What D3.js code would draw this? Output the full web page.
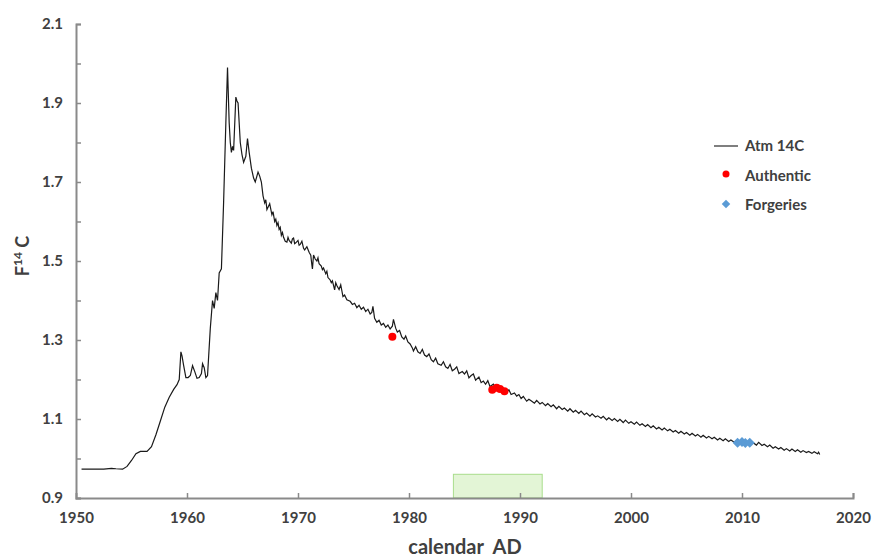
<!DOCTYPE html>
<html>
<head>
<meta charset="utf-8">
<script src="https://cdn.jsdelivr.net/npm/d3@7"></script>
<style>
  body { margin: 0; background: #fff; }
  text { font-family: Lato, "Open Sans", sans-serif; }
</style>
</head>
<body>
<div id="chart"></div>
<script>
// atmospheric F14C record (year, F14C)
var atm14C = [
  [1950.5,0.973],[1951.5,0.973],[1952.5,0.973],[1953.2,0.975],[1953.6,0.974],[1954.2,0.973],
  [1954.6,0.98],[1955.0,0.995],[1955.4,1.012],[1955.8,1.018],[1956.4,1.018],[1956.8,1.03],
  [1957.2,1.06],[1957.6,1.095],[1958.0,1.13],[1958.4,1.155],[1958.8,1.175],[1959.1,1.187],
  [1959.3,1.20],[1959.45,1.27],[1959.55,1.26],[1959.7,1.235],[1959.9,1.205],[1960.1,1.205],
  [1960.3,1.21],[1960.5,1.235],[1960.7,1.22],[1960.9,1.203],[1961.1,1.205],[1961.3,1.215],
  [1961.4,1.24],[1961.55,1.23],[1961.7,1.205],[1961.85,1.21],[1962.1,1.33],[1962.3,1.40],
  [1962.45,1.38],[1962.6,1.42],[1962.75,1.40],[1962.9,1.47],[1963.1,1.48],[1963.3,1.65],
  [1963.5,1.85],[1963.65,1.99],[1963.8,1.85],[1963.9,1.80],[1964.0,1.775],[1964.1,1.79],
  [1964.2,1.78],[1964.4,1.915],[1964.5,1.905],[1964.6,1.90],[1964.8,1.80],[1964.95,1.77],
  [1965.1,1.75],[1965.3,1.765],[1965.45,1.81],[1965.6,1.775],[1965.8,1.735],[1966.0,1.71],
  [1966.15,1.70],[1966.4,1.725],[1966.55,1.715],[1966.7,1.70],[1966.85,1.665],[1967.0,1.647],
  [1967.1,1.655],[1967.2,1.63],[1967.45,1.645],[1967.65,1.617],[1967.75,1.625],[1967.9,1.60],
  [1968.0,1.606],[1968.1,1.59],[1968.2,1.597],[1968.3,1.58],[1968.4,1.585],[1968.5,1.565],
  [1968.6,1.572],[1968.7,1.56],[1968.85,1.55],[1969.0,1.548],[1969.1,1.56],[1969.2,1.552],
  [1969.4,1.545],[1969.5,1.556],[1969.6,1.558],[1969.7,1.544],[1969.8,1.546],[1970.0,1.552],
  [1970.1,1.54],[1970.2,1.542],[1970.35,1.55],[1970.5,1.532],[1970.6,1.528],[1970.8,1.536],
  [1971.0,1.522],[1971.15,1.515],[1971.25,1.49],[1971.3,1.48],[1971.4,1.515],[1971.55,1.505],
  [1971.7,1.50],[1971.8,1.508],[1971.9,1.493],[1972.1,1.487],[1972.2,1.478],[1972.3,1.482],
  [1972.5,1.468],[1972.6,1.474],[1972.7,1.458],[1972.9,1.452],[1973.0,1.445],[1973.1,1.45],
  [1973.3,1.427],[1973.4,1.445],[1973.5,1.438],[1973.7,1.428],[1973.85,1.44],[1974.05,1.41],
  [1974.2,1.414],[1974.4,1.402],[1974.7,1.398],[1974.9,1.39],[1975.1,1.393],[1975.3,1.382],
  [1975.5,1.388],[1975.7,1.378],[1975.9,1.383],[1976.1,1.372],[1976.3,1.378],[1976.5,1.366],
  [1976.65,1.37],[1976.75,1.385],[1976.9,1.355],[1977.1,1.345],[1977.3,1.35],[1977.5,1.338],
  [1977.7,1.342],[1977.9,1.332],[1978.1,1.338],[1978.3,1.328],[1978.5,1.335],[1978.6,1.352],
  [1978.8,1.33],[1978.95,1.32],[1979.15,1.324],[1979.35,1.308],[1979.55,1.302],[1979.7,1.31],
  [1979.9,1.295],[1980.1,1.29],[1980.3,1.28],[1980.4,1.272],[1980.6,1.283],[1980.8,1.27],
  [1981.0,1.266],[1981.2,1.276],[1981.4,1.262],[1981.6,1.258],[1981.8,1.265],[1982.0,1.25],
  [1982.2,1.245],[1982.4,1.254],[1982.6,1.24],[1982.9,1.236],[1983.1,1.245],[1983.3,1.232],
  [1983.5,1.228],[1983.7,1.238],[1983.9,1.222],[1984.1,1.226],[1984.3,1.232],[1984.5,1.215],
  [1984.8,1.22],[1985.0,1.214],[1985.2,1.222],[1985.4,1.204],[1985.6,1.21],[1985.8,1.214],
  [1986.0,1.198],[1986.3,1.206],[1986.5,1.192],[1986.7,1.196],[1986.9,1.188],[1987.1,1.197],
  [1987.3,1.182],[1987.6,1.188],[1987.8,1.178],[1988.0,1.182],[1988.3,1.172],[1988.5,1.178],
  [1988.8,1.168],[1989.0,1.174],[1989.2,1.162],[1989.5,1.166],[1989.7,1.158],[1989.9,1.162],
  [1990.1,1.152],[1990.3,1.157],[1990.6,1.145],[1990.8,1.15],[1991.0,1.146],[1991.3,1.14],
  [1991.5,1.147],[1991.8,1.138],[1992.0,1.142],[1992.3,1.134],[1992.5,1.139],[1992.8,1.131],
  [1993.0,1.136],[1993.3,1.126],[1993.5,1.132],[1993.8,1.124],[1994.0,1.128],[1994.3,1.12],
  [1994.5,1.126],[1994.8,1.117],[1995.0,1.122],[1995.3,1.114],[1995.5,1.12],[1995.8,1.111],
  [1996.0,1.115],[1996.3,1.107],[1996.5,1.113],[1996.8,1.105],[1997.0,1.108],[1997.3,1.102],
  [1997.5,1.107],[1997.8,1.098],[1998.0,1.103],[1998.3,1.096],[1998.5,1.101],[1998.8,1.094],
  [1999.0,1.099],[1999.3,1.091],[1999.5,1.097],[1999.8,1.089],[2000.0,1.093],[2000.3,1.087],
  [2000.5,1.092],[2000.8,1.084],[2001.0,1.088],[2001.3,1.081],[2001.5,1.086],[2001.8,1.078],
  [2002.0,1.083],[2002.3,1.075],[2002.5,1.079],[2002.8,1.072],[2003.0,1.077],[2003.3,1.07],
  [2003.5,1.074],[2003.8,1.067],[2004.0,1.071],[2004.3,1.064],[2004.5,1.069],[2004.8,1.062],
  [2005.0,1.066],[2005.3,1.059],[2005.5,1.064],[2005.8,1.057],[2006.0,1.061],[2006.3,1.054],
  [2006.5,1.059],[2006.8,1.052],[2007.0,1.056],[2007.3,1.05],[2007.5,1.054],[2007.8,1.047],
  [2008.0,1.051],[2008.3,1.045],[2008.5,1.05],[2008.8,1.043],[2009.0,1.047],[2009.3,1.041],
  [2009.5,1.045],[2009.8,1.039],[2010.0,1.043],[2010.3,1.038],[2010.5,1.042],[2010.8,1.036],
  [2011.0,1.04],[2011.3,1.034],[2011.5,1.041],[2011.8,1.033],[2012.0,1.036],[2012.3,1.03],
  [2012.5,1.034],[2012.8,1.026],[2013.0,1.03],[2013.3,1.024],[2013.5,1.028],[2013.8,1.021],
  [2014.0,1.025],[2014.3,1.019],[2014.5,1.024],[2014.8,1.018],[2015.0,1.022],[2015.3,1.016],
  [2015.5,1.02],[2015.8,1.015],[2016.0,1.018],[2016.3,1.013],[2016.5,1.017],[2016.8,1.012],
  [2016.9,1.016],[2017.0,1.01]
];
var authentic = [[1978.5,1.308],[1987.5,1.174],[1987.9,1.179],[1988.2,1.176],[1988.6,1.170]];
var forgeries = [[2009.6,1.040],[2010.0,1.042],[2010.3,1.039],[2010.7,1.040]];
var band = [1984, 1992, 0.96]; // green range: from, to, top
var xTicks = [1950,1960,1970,1980,1990,2000,2010,2020];
var yTicks = [0.9,1.0,1.1,1.2,1.3,1.4,1.5,1.6,1.7,1.8,1.9,2.0,2.1];
var yLabels = [0.9,1.1,1.3,1.5,1.7,1.9,2.1];

var width = 875, height = 557;
var svg = d3.select("#chart").append("svg")
  .attr("width", width).attr("height", height);

var x = d3.scaleLinear().domain([1950, 2020]).range([76, 853]);
var y = d3.scaleLinear().domain([0.9, 2.1]).range([498, 24]);

//green band
svg.append("rect")
  .attr("x", x(band[0]))
  .attr("y", y(band[2]))
  .attr("width", x(band[1]) - x(band[0]))
  .attr("height", y(0.9) - y(band[2]))
  .style("fill", "#e3f5d6")
  .style("stroke", "#a9dd8c")
  .style("stroke-width", 1);

var axisColor = "#8a8a8a";
var xAxis = svg.append("g")
  .attr("transform", "translate(0," + y(0.9) + ")")
  .call(d3.axisBottom(x).tickValues(xTicks).tickSize(-5).tickFormat(d3.format("d")).tickPadding(14));
var yAxis = svg.append("g")
  .attr("transform", "translate(" + x(1950) + ",0)")
  .call(d3.axisLeft(y).tickValues(yTicks).tickSize(-5).tickPadding(13)
    .tickFormat(function (d) { return yLabels.some(function (v) { return Math.abs(v - d) < 1e-9; }) ? d3.format(".1f")(d) : ""; }));

[xAxis, yAxis].forEach(function (g) {
  g.select(".domain").style("stroke", axisColor).style("stroke-width", 2);
  g.selectAll(".tick line").style("stroke", axisColor).style("stroke-width", 1.5);
  g.selectAll(".tick text")
    .style("font-family", "Lato, sans-serif")
    .style("font-size", "15px")
    .style("font-weight", "bold")
    .style("fill", "#404040");
});
xAxis.selectAll(".tick").filter(function (d) { return d === 1950; }).select("line").remove();

//atm curve
var line = d3.line().x(function (d) { return x(d[0]); }).y(function (d) { return y(d[1]); });
svg.append("path")
  .datum(atm14C)
  .attr("d", line)
  .style("fill", "none")
  .style("stroke", "#1a1a1a")
  .style("stroke-width", 1.2);

svg.selectAll(".auth").data(authentic).enter().append("circle")
  .attr("cx", function (d) { return x(d[0]); })
  .attr("cy", function (d) { return y(d[1]); })
  .attr("r", 4)
  .style("fill", "#ff0000");

var diamond = d3.symbol().type(d3.symbolSquare).size(50);
svg.selectAll(".forg").data(forgeries).enter().append("path")
  .attr("d", diamond)
  .attr("transform", function (d) { return "translate(" + x(d[0]) + "," + y(d[1]) + ") rotate(45)"; })
  .style("fill", "#5b9bd5");

//axis titles
svg.append("text")
  .attr("x", 465).attr("y", 554)
  .attr("text-anchor", "middle")
  .attr("xml:space", "preserve")
  .style("font-size", "20px").style("font-weight", "bold").style("fill", "#404040")
  .text("calendar  AD");

var yt = svg.append("text")
  .attr("transform", "translate(29,256) rotate(-90)")
  .attr("text-anchor", "middle")
  .style("font-size", "18px").style("font-weight", "bold").style("fill", "#404040");
yt.append("tspan").text("F");
yt.append("tspan").attr("dy", -7).style("font-size", "12px").text("14");
yt.append("tspan").attr("dy", 7).text(" C");

//legend
var legend = svg.append("g");
legend.append("line")
  .attr("x1", 714).attr("x2", 738).attr("y1", 146).attr("y2", 146)
  .style("stroke", "#555").style("stroke-width", 1.5);
legend.append("circle").attr("cx", 726).attr("cy", 174).attr("r", 3.5).style("fill", "#ff0000");
legend.append("path").attr("d", d3.symbol().type(d3.symbolSquare).size(36))
  .attr("transform", "translate(726,204) rotate(45)").style("fill", "#5b9bd5");
var legendLabels = ["Atm 14C", "Authentic", "Forgeries"];
legend.selectAll("text.lg").data(legendLabels).enter().append("text")
  .attr("x", 745)
  .attr("y", function (d, i) { return 151 + i * 29.5; })
  .style("font-size", "15px").style("font-weight", "bold").style("fill", "#404040")
  .text(function (d) { return d; });
</script>
</body>
</html>
